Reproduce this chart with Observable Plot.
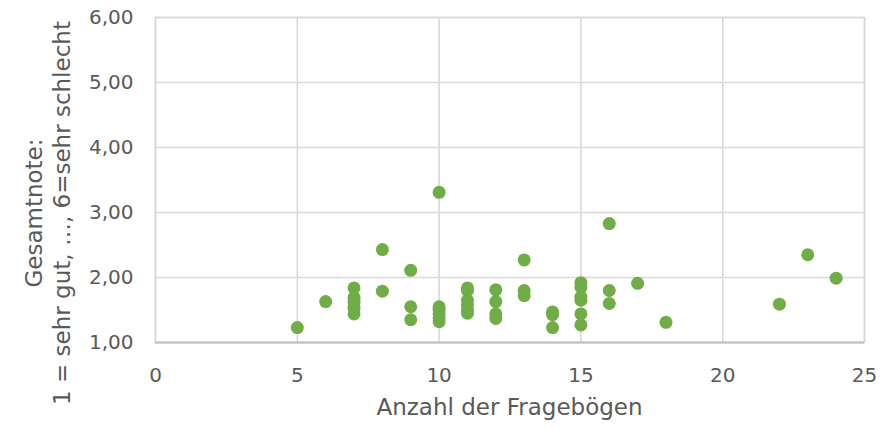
<!DOCTYPE html>
<html>
<head>
<meta charset="utf-8">
<script src="https://cdn.jsdelivr.net/npm/d3@7"></script>
<script src="https://cdn.jsdelivr.net/npm/@observablehq/plot@0.6"></script>
<style>
  html, body { margin: 0; padding: 0; background: #ffffff; }
  #chart { width: 896px; height: 429px; }
</style>
</head>
<body>
<div id="chart"></div>
<script>
// Data
const anzahl = [5, 6, 7, 7, 7, 7, 7, 8, 8, 9, 9, 9, 10, 10, 10, 10, 10, 10,
  11, 11, 11, 11, 11, 11, 12, 12, 12, 12, 13, 13, 13, 14, 14, 14,
  15, 15, 15, 15, 15, 15, 16, 16, 16, 17, 18, 22, 23, 24];
const gesamtnote = [1.23, 1.63, 1.84, 1.69, 1.62, 1.53, 1.44, 2.43, 1.79, 2.11, 1.55, 1.35,
  3.31, 1.55, 1.50, 1.44, 1.38, 1.32, 1.84, 1.80, 1.65, 1.58, 1.50, 1.45,
  1.81, 1.63, 1.44, 1.37, 2.27, 1.80, 1.72, 1.47, 1.43, 1.23,
  1.92, 1.85, 1.70, 1.65, 1.44, 1.27, 2.83, 1.80, 1.60, 1.91, 1.31, 1.59, 2.35, 1.99];
const xTicks = [0, 5, 10, 15, 20, 25];
const yTicks = [1, 2, 3, 4, 5, 6];
const xTitle = "Anzahl der Fragebögen";
const yTitleLines = ["Gesamtnote:", "1 = sehr gut, …, 6=sehr schlecht"];

const data = anzahl.map((a, i) => ({anzahl: a, note: gesamtnote[i]}));

const textColor = "#595959";
const gridColor = "#d9d9d9";

const chart = Plot.plot({
  width: 896,
  height: 429,
  marginLeft: 155,
  marginRight: 32,
  marginTop: 17,
  marginBottom: 87,
  style: {fontFamily: "DejaVu Sans", fontSize: "20px", color: textColor, background: "#ffffff"},
  x: {domain: [0, 25], ticks: xTicks},
  y: {domain: [1, 6], ticks: yTicks},
  marks: [
    Plot.gridX(xTicks, {stroke: gridColor, strokeOpacity: 1, strokeWidth: 1.6}),
    Plot.gridY(yTicks, {stroke: gridColor, strokeOpacity: 1, strokeWidth: 1.6}),
    Plot.frame({stroke: gridColor, strokeWidth: 1.6}),
    Plot.ruleY([1], {stroke: "#bfbfbf", strokeWidth: 2}),
    Plot.dot(data, {x: "anzahl", y: "note", r: 6.5, fill: "#70AD47", stroke: "none"}),
    Plot.axisX(xTicks, {tickSize: 0, tickPadding: 25, label: null, fill: textColor, fontSize: 20}),
    Plot.axisY(yTicks, {tickSize: 0, tickPadding: 22, label: null, fill: textColor, fontSize: 20,
      tickFormat: d => d.toFixed(2).replace(".", ",")})
  ]
});

const svg = d3.select(chart);
// x-axis title
svg.append("text")
  .attr("x", (155 + 864) / 2)
  .attr("y", 415)
  .attr("text-anchor", "middle")
  .attr("font-family", "DejaVu Sans")
  .attr("font-size", 23)
  .attr("fill", textColor)
  .text(xTitle);
// y-axis title (two lines, rotated)
const baselines = [42, 70];
yTitleLines.forEach((line, i) => {
  svg.append("text")
    .attr("transform", `translate(${baselines[i]},213) rotate(-90)`)
    .attr("text-anchor", "middle")
    .attr("font-family", "DejaVu Sans")
    .attr("font-size", 23)
    .attr("fill", textColor)
    .text(line);
});

document.getElementById("chart").appendChild(chart);
</script>
</body>
</html>
